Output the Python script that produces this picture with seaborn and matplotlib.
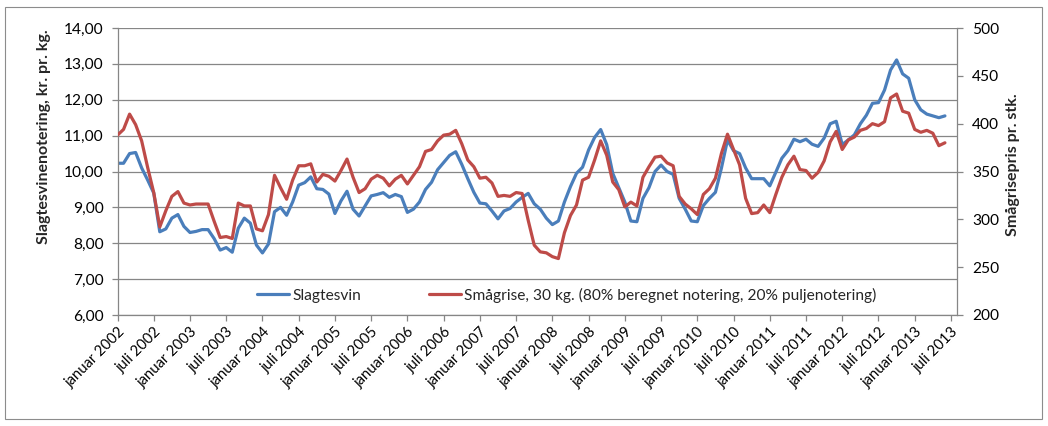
import matplotlib
matplotlib.use("Agg")
import matplotlib.pyplot as plt
import seaborn as sns
import pandas as pd
from matplotlib.ticker import FuncFormatter, MultipleLocator, FixedLocator
from matplotlib.patches import Rectangle

# ---- data (monthly, januar 2002 - juni 2013) ----
slagtesvin = [
    10.23, 10.23, 10.50, 10.53, 10.10, 9.76, 9.40, 8.32, 8.40, 8.70, 8.80, 8.47,
    8.30, 8.33, 8.38, 8.38, 8.13, 7.81, 7.88, 7.75, 8.42, 8.70, 8.56, 7.95,
    7.73, 7.98, 8.88, 9.00, 8.78, 9.15, 9.62, 9.69, 9.85, 9.52, 9.50, 9.37,
    8.83, 9.18, 9.45, 8.95, 8.76, 9.04, 9.32, 9.36, 9.41, 9.28, 9.36, 9.30,
    8.86, 8.95, 9.15, 9.50, 9.70, 10.05, 10.25, 10.45, 10.55, 10.20, 9.80, 9.42,
    9.12, 9.10, 8.90, 8.68, 8.90, 8.97, 9.15, 9.28, 9.39, 9.10, 8.95, 8.70,
    8.52, 8.62, 9.15, 9.58, 9.95, 10.12, 10.60, 10.95, 11.17, 10.75, 9.95, 9.55,
    9.15, 8.62, 8.60, 9.25, 9.55, 10.00, 10.18, 10.00, 9.92, 9.25, 8.95, 8.62,
    8.60, 9.05, 9.25, 9.42, 10.10, 10.88, 10.58, 10.50, 10.10, 9.80, 9.80, 9.80,
    9.60, 9.98, 10.37, 10.58, 10.90, 10.83, 10.90, 10.76, 10.70, 10.93, 11.33, 11.40,
    10.75, 10.88, 11.02, 11.33, 11.57, 11.90, 11.92, 12.27, 12.83, 13.11, 12.72, 12.60,
    12.00, 11.72, 11.60, 11.55, 11.50, 11.55,
]
smaagrise = [
    388, 394, 410, 399, 382, 354, 328, 292, 309, 324, 329, 317,
    315, 316, 316, 316, 298, 281, 282, 280, 317, 314, 314, 290,
    288, 305, 346, 333, 321, 341, 356, 356, 358, 339, 347, 345,
    340, 351, 363, 344, 328, 332, 342, 346, 343, 335, 342, 346,
    337, 346, 355, 371, 373, 382, 388, 389, 393, 379, 362, 355,
    343, 344, 338, 324, 325, 324, 328, 327, 299, 273, 266, 265,
    261, 259, 286, 304, 315, 341, 344, 362, 382, 367, 339, 331,
    313, 318, 314, 344, 355, 365, 366, 359, 356, 324, 316, 311,
    305, 326, 332, 343, 369, 389, 373, 357, 322, 306, 307, 315,
    307, 326, 344, 357, 366, 352, 351, 343, 349, 361, 381, 392,
    373, 383, 386, 393, 395, 400, 398, 402, 427, 431, 413, 411,
    394, 391, 393, 390, 377, 380,
]
years = list(range(2002, 2014))
tick_months = ["januar", "juli"]
tick_labels = [f"{m} {y}" for y in years for m in tick_months]
series_names = ["Slagtesvin", "Smågrise, 30 kg. (80% beregnet notering, 20% puljenotering)"]
left_title = "Slagtesvinenotering, kr. pr. kg."
right_title = "Smågrisepris pr. stk."

BLUE = "#4A7EBB"
RED = "#BE4B48"
GRID = "#868686"
FS = 11.2
FS_X = 10.6
FS_T = 11.5

sns.set_theme(style="white")
plt.rcParams['font.family'] = ['Lato', 'DejaVu Sans']

W, H = 1048, 426
fig = plt.figure(figsize=(W / 100, H / 100), dpi=100)
L, R, T, B = 117.5, 957, 28, 315
ax = fig.add_axes([L / W, 1 - B / H, (R - L) / W, (B - T) / H])
ax2 = ax.twinx()

df = pd.DataFrame({"m": range(len(slagtesvin)), "slagtesvin": slagtesvin, "smaagrise": smaagrise})
sns.lineplot(data=df, x="m", y="slagtesvin", ax=ax, color=BLUE, lw=2.3, legend=False)
sns.lineplot(data=df, x="m", y="smaagrise", ax=ax2, color=RED, lw=2.3, legend=False)

ax.set_xlim(0, 139)
ax.set_ylim(6, 14)
ax2.set_ylim(200, 500)
ax.yaxis.set_major_locator(MultipleLocator(1))
ax.yaxis.set_major_formatter(FuncFormatter(lambda v, p: f"{v:.2f}".replace(".", ",")))
ax2.yaxis.set_major_locator(MultipleLocator(50))
ax.yaxis.grid(True, color=GRID, lw=0.9)
ax.xaxis.grid(False)
ax.set_xlabel("")
ax.set_ylabel("")
ax2.set_ylabel("")

ax.xaxis.set_major_locator(FixedLocator(list(range(0, 139, 6))))
ax.set_xticklabels(tick_labels, rotation=45, ha="right", va="top", rotation_mode="anchor")

for s in ["top", "right"]:
    ax.spines[s].set_visible(False)
for s in ["left", "bottom"]:
    ax.spines[s].set_color(GRID)
    ax.spines[s].set_linewidth(0.9)
for s in ["top", "left", "bottom"]:
    ax2.spines[s].set_visible(False)
ax2.spines["right"].set_color(GRID)
ax2.spines["right"].set_linewidth(0.9)

ax.tick_params(axis="y", left=True, direction="out", length=4, width=0.9, color=GRID,
               labelsize=FS, pad=6, labelcolor="#000000")
ax.tick_params(axis="x", bottom=True, direction="out", length=4, width=0.9, color=GRID,
               labelsize=FS_X, pad=3, labelcolor="#000000")
ax2.tick_params(axis="y", right=True, direction="out", length=4, width=0.9, color=GRID,
                labelsize=FS, pad=7, labelcolor="#000000")

handles = [ax.get_lines()[0], ax2.get_lines()[0]]
fig.legend(handles, series_names, loc="center", bbox_to_anchor=(567 / W, 1 - 295 / H),
           ncol=2, frameon=False, handlelength=2.05, handletextpad=0.2,
           columnspacing=4.4, fontsize=FS)

fig.text(44 / W, 1 - 137 / H, left_title, rotation=90, ha="center", va="center",
         fontsize=FS_T, fontweight="bold")
fig.text(1013 / W, 1 - 165 / H, right_title, rotation=90, ha="center", va="center",
         fontsize=FS_T, fontweight="bold")

fig.add_artist(Rectangle((5 / W, 1 - 419 / H), (1042 - 5) / W, (419 - 7) / H,
                         transform=fig.transFigure, fill=False, edgecolor="#8c8c8c", lw=0.8))

fig.savefig("out.png", dpi=100)
